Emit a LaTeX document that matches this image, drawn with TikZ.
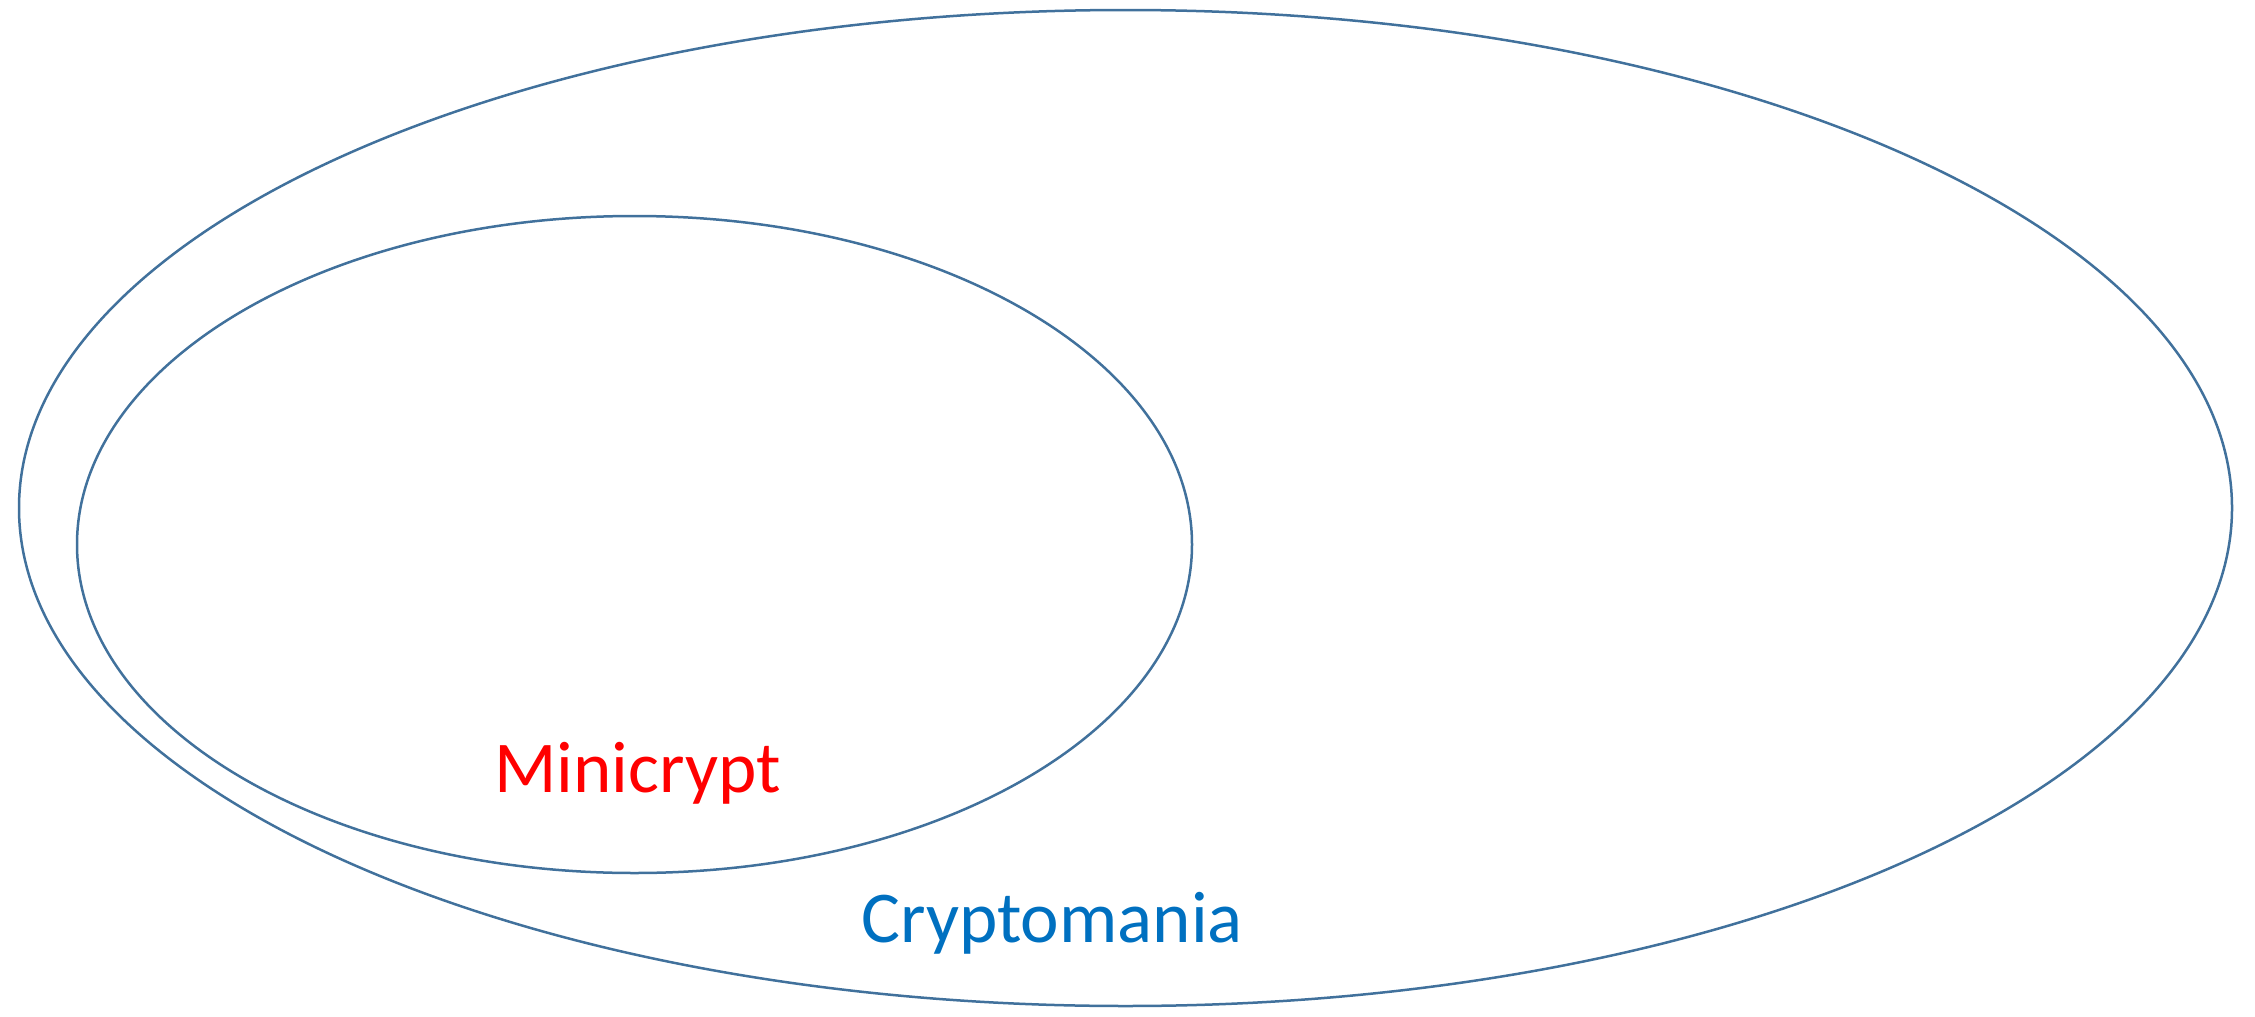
\documentclass[tikz,border=0pt]{standalone}
\usepackage{fontspec}
\setmainfont{Carlito}
\usetikzlibrary{shapes.geometric}
\definecolor{rimblue}{HTML}{41719C}
\definecolor{minired}{HTML}{FF0000}
\definecolor{maniablue}{HTML}{0070C0}
\begin{document}
\begin{tikzpicture}[x=0.5pt,y=-0.5pt,
  worldset/.style={ellipse, draw=rimblue, line width=1.25pt, inner sep=0pt, outer sep=0pt},
  worldname/.style={font=\fontsize{36.5}{40}\selectfont, anchor=base west, inner sep=0pt}]
\useasboundingbox (0,0) rectangle (2255,1017);
% the two worlds, one inside the other
\node[worldset, minimum width=1106.5pt, minimum height=498pt] (cryptomania) at (1125.5,508) {};
\node[worldset, minimum width=557.5pt, minimum height=328.5pt] (minicrypt) at (634.5,544.5) {};
% their names
\node[worldname, text=minired] (minilabel) at (494,792) {Minicrypt};
\node[worldname, text=maniablue] (manialabel) at (861,942) {Cryptomania};
\end{tikzpicture}
\end{document}
